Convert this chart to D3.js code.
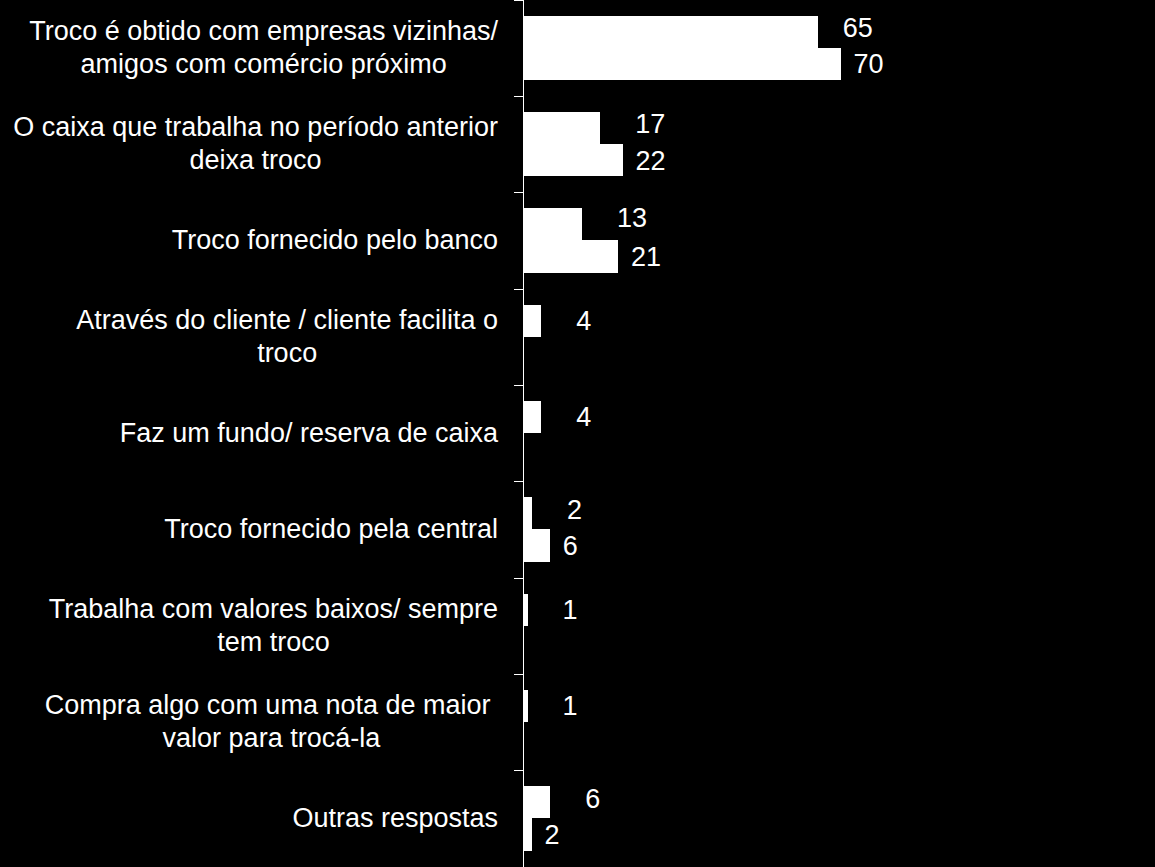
<!DOCTYPE html>
<html>
<head>
<meta charset="utf-8">
<script src="https://cdn.jsdelivr.net/npm/d3@7"></script>
<style>
  html, body { margin: 0; padding: 0; background: #000; }
  svg { display: block; }
  text { font-family: "Liberation Sans", Arial, sans-serif; fill: #fff; }
</style>
</head>
<body>
<svg id="chart" width="1155" height="867"></svg>
<script>
// ---- data ----
const categories = [
  ["Troco é obtido com empresas vizinhas/", "amigos com comércio próximo"],
  ["O caixa que trabalha no período anterior", "deixa troco"],
  ["Troco fornecido pelo banco"],
  ["Através do cliente / cliente facilita o", "troco"],
  ["Faz um fundo/ reserva de caixa"],
  ["Troco fornecido pela central"],
  ["Trabalha com valores baixos/ sempre", "tem troco"],
  ["Compra algo com uma nota de maior ", "valor para trocá-la"],
  ["Outras respostas"]
];
const series1 = [65, 17, 13, 4, 4, 2, 1, 1, 6];
const series2 = [70, 22, 21, null, null, 6, null, null, 2];

// ---- layout ----
const W = 1155, H = 867;
const axisX = 522.5;
const labelRight = 498;
const fontSize = 27;
const s1LabelNudgeX = [-10.5, 0, 0, 0, 0, 0, 0, 0, 0];
const s1LabelNudgeY = [-4, -4, -7, 0, 0, -4, 0, 0, -4];

const svg = d3.select("#chart");
svg.append("rect").attr("width", W).attr("height", H).attr("fill", "#000");

const ids = categories.map((d, i) => i);
const y = d3.scaleBand().domain(ids).range([-0.5, 866.5]).padding(0);
const ySeries = d3.scaleBand().domain([0, 1]).range([16, y.bandwidth() - 16]).padding(0);
const x = d3.scaleLinear().domain([0, 100]).range([axisX + 0.5, axisX + 0.5 + 454.3]);

// axis (ticks at band boundaries)
const yTick = d3.scaleLinear().domain([0, categories.length]).range([-0.5, 866.5]);
const axisG = svg.append("g").attr("transform", `translate(${axisX},0)`)
  .call(d3.axisLeft(yTick).tickValues(d3.range(0, categories.length + 1)).tickFormat("").tickSize(9).tickSizeOuter(0));
axisG.selectAll("path, line").attr("stroke", "#fff").attr("stroke-width", 1).attr("shape-rendering", "crispEdges");

// bars
const rows = [];
ids.forEach(i => {
  rows.push({ i, s: 0, v: series1[i] });
  if (series2[i] != null) rows.push({ i, s: 1, v: series2[i] });
});

svg.append("g").selectAll("rect").data(rows).join("rect")
  .attr("x", x(0))
  .attr("y", d => y(d.i) + ySeries(d.s))
  .attr("width", d => x(d.v) - x(0))
  .attr("height", ySeries.bandwidth())
  .attr("fill", "#fff")
  .attr("shape-rendering", "crispEdges");

// value labels
svg.append("g").selectAll("text").data(rows).join("text")
  .attr("x", d => d.s === 0 ? x(d.v) + 35 + s1LabelNudgeX[d.i] : x(d.v) + 12.5)
  .attr("y", d => {
    const cy = y(d.i) + ySeries(d.s) + ySeries.bandwidth() / 2;
    return cy + (d.s === 0 ? s1LabelNudgeY[d.i] : 0);
  })
  .attr("dy", "0.35em")
  .attr("font-size", fontSize)
  .attr("text-anchor", "start")
  .text(d => d.v);

// category labels: block right-aligned, lines centered
const lh = fontSize * 1.2;
const catG = svg.append("g");
categories.forEach((lines, i) => {
  const cy = y(i) + y.bandwidth() / 2;
  const g = catG.append("g");
  const texts = lines.map((ln, k) => g.append("text")
    .attr("font-size", fontSize)
    .attr("text-anchor", "middle")
    .attr("xml:space", "preserve")
    .style("white-space", "pre")
    .attr("y", cy + (k - (lines.length - 1) / 2) * lh)
    .attr("dy", "0.32em")
    .text(ln));
  const maxW = d3.max(texts, t => t.node().getComputedTextLength());
  texts.forEach(t => t.attr("x", labelRight - maxW / 2));
});
</script>
</body>
</html>
